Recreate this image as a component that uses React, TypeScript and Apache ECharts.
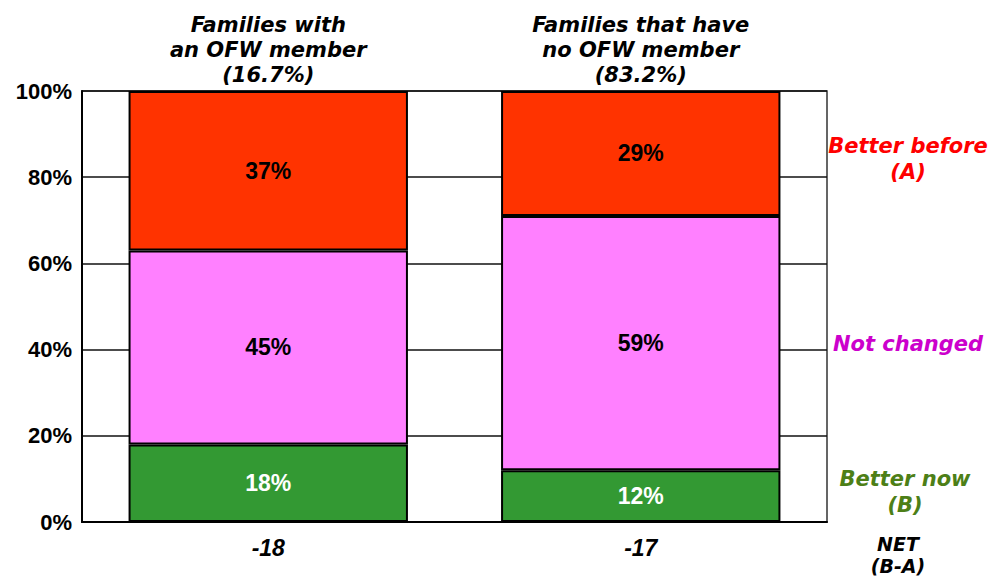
import React, { useEffect, useRef } from "react";
import * as echarts from "echarts";

const categories = [
  "Families with\nan OFW member\n(16.7%)",
  "Families that have\nno OFW member\n(83.2%)",
];
const betterNow = [18, 12];
const notChanged = [45, 59];
const betterBefore = [37, 29];
const netLabels = ["-18", "-17"];
const yTicks = [0, 20, 40, 60, 80, 100];

const NUM_FONT = "'Liberation Sans', Arial, sans-serif";
const TXT_FONT = "'DejaVu Sans', Verdana, sans-serif";

export default function App() {
  const ref = useRef<HTMLDivElement>(null);
  useEffect(() => {
    if (!ref.current) return;
    const chart = echarts.init(ref.current, null, { renderer: "svg" });
    const barLabel = (color: string) => ({
      show: true,
      position: "inside",
      formatter: "{c}%",
      color,
      fontFamily: NUM_FONT,
      fontWeight: "bold",
      fontSize: 23,
    });
    const itemStyle = (color: string) => ({
      color,
      borderColor: "#000",
      borderWidth: 2,
    });
    chart.setOption({
      animation: false,
      backgroundColor: "#fff",
      grid: {
        left: 82,
        right: 169,
        top: 91,
        bottom: 58,
        show: true,
        borderColor: "#333",
        borderWidth: 1.5,
        containLabel: false,
      },
      xAxis: [
        {
          type: "category",
          data: netLabels,
          position: "bottom",
          axisLine: { show: true, lineStyle: { color: "#000", width: 2 } },
          axisTick: { show: false },
          axisLabel: {
            color: "#000",
            fontFamily: NUM_FONT,
            fontWeight: "bold",
            fontStyle: "italic",
            fontSize: 23,
            lineHeight: 24,
            margin: 14,
          },
        },
        {
          type: "category",
          data: categories,
          position: "top",
          axisLine: { show: false },
          axisTick: { show: false },
          axisLabel: {
            color: "#000",
            fontFamily: TXT_FONT,
            fontWeight: "bold",
            fontStyle: "italic",
            fontSize: 21,
            lineHeight: 25,
            margin: 4,
          },
        },
      ],
      yAxis: {
        type: "value",
        min: yTicks[0],
        max: yTicks[yTicks.length - 1],
        interval: 20,
        axisLine: { show: true, lineStyle: { color: "#000", width: 2 } },
        axisTick: { show: false },
        axisLabel: {
          formatter: "{value}%",
          color: "#000",
          fontFamily: NUM_FONT,
          fontWeight: "bold",
          fontSize: 22,
          margin: 10,
        },
        splitLine: { show: true, lineStyle: { color: "#111", width: 1.5 } },
      },
      series: [
        {
          name: "Better now (B)",
          type: "bar",
          stack: "total",
          barWidth: "75%",
          data: betterNow,
          itemStyle: itemStyle("#339933"),
          label: barLabel("#fff"),
        },
        {
          name: "Not changed",
          type: "bar",
          stack: "total",
          barWidth: "75%",
          data: notChanged,
          itemStyle: itemStyle("#FF80FF"),
          label: barLabel("#000"),
        },
        {
          name: "Better before (A)",
          type: "bar",
          stack: "total",
          barWidth: "75%",
          data: betterBefore,
          itemStyle: itemStyle("#FF3300"),
          label: barLabel("#000"),
        },
      ],
      graphic: [
        {
          type: "text",
          x: 908,
          y: 159,
          style: {
            text: "Better before\n(A)",
            fill: "#FF0000",
            font: `italic bold 21px ${TXT_FONT}`,
            lineHeight: 26,
            align: "center",
            verticalAlign: "middle",
          },
        },
        {
          type: "text",
          x: 908,
          y: 344,
          style: {
            text: "Not changed",
            fill: "#CC00CC",
            font: `italic bold 21px ${TXT_FONT}`,
            align: "center",
            verticalAlign: "middle",
          },
        },
        {
          type: "text",
          x: 905,
          y: 492,
          style: {
            text: "Better now\n(B)",
            fill: "#4D7F17",
            font: `italic bold 21px ${TXT_FONT}`,
            lineHeight: 26,
            align: "center",
            verticalAlign: "middle",
          },
        },
        {
          type: "text",
          x: 898,
          y: 555,
          style: {
            text: "NET\n(B-A)",
            fill: "#000",
            font: `italic bold 19px ${TXT_FONT}`,
            lineHeight: 22,
            align: "center",
            verticalAlign: "middle",
          },
        },
      ],
    });
    return () => chart.dispose();
  }, []);
  return (
    <div
      ref={ref}
      style={{ position: "fixed", left: 0, top: 0, width: 996, height: 580 }}
    />
  );
}
